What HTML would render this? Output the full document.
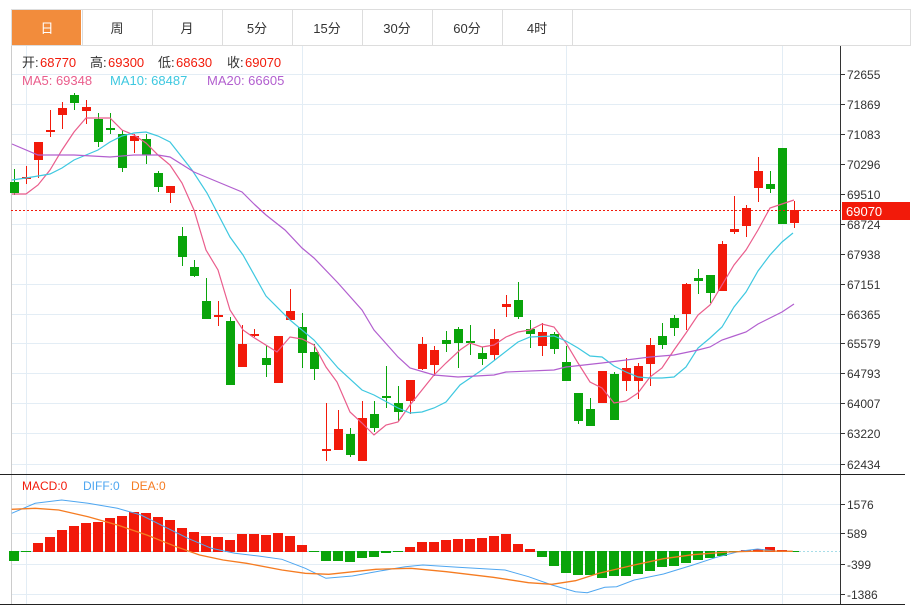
<!DOCTYPE html>
<html><head><meta charset="utf-8"><style>
body{margin:0;background:#fff;width:916px;height:608px;overflow:hidden;font-family:"Liberation Sans","Noto Sans CJK SC",sans-serif}
</style></head><body>
<svg id="s" width="916" height="608" xmlns="http://www.w3.org/2000/svg" style="position:absolute;left:0;top:0;font-family:'Liberation Sans','Noto Sans CJK SC',sans-serif">
</svg>
<script>
var s=document.getElementById('s'),h='';
function L(x1,y1,x2,y2,c,w,d){h+='<line x1="'+x1+'" y1="'+y1+'" x2="'+x2+'" y2="'+y2+'" stroke="'+c+'" stroke-width="'+(w||1)+'"'+(d?' stroke-dasharray="'+d+'"':'')+'/>';}
function R(x,y,w,hh,c){h+='<rect x="'+x+'" y="'+y+'" width="'+w+'" height="'+hh+'" fill="'+c+'"/>';}
function T(x,y,t,c,sz,a){h+='<text x="'+x+'" y="'+y+'" fill="'+c+'" font-size="'+(sz||12)+'"'+(a?' text-anchor="'+a+'"':'')+'>'+t+'</text>';}
function P(pts,c,w){h+='<polyline fill="none" stroke="'+c+'" stroke-width="'+(w||1.2)+'" points="'+pts.map(function(p){return p[0]+','+p[1]}).join(' ')+'"/>';}
// tabs
R(11,9,899,36,'#fff');L(11,9.5,910,9.5,'#ddd');L(11,45.5,910,45.5,'#ddd');L(910.5,9,910.5,46,'#ddd');L(11.5,9,11.5,46,'#ddd');
var tabs=['日','周','月','5分','15分','30分','60分','4时'];
for(var i=0;i<8;i++){var x=12+i*70;if(i==0)R(12,10,69,35,'#f28c3c');else L(x+.5,10,x+.5,45,'#ddd');T(x+35,33,tabs[i],i==0?'#fff':'#333',13,'middle');}
L(x+70.5,10,x+70.5,45,'#ddd');
// grid
var gy=[74,104,134,164,194,224,254,284,314,343,373,403,433,464],gl=['72655','71869','71083','70296','69510','68724','67938','67151','66365','65579','64793','64007','63220','62434'];
gy.forEach(function(y,i){L(11,y+.5,840,y+.5,'#e3edf5');L(840,y+.5,845,y+.5,'#333');T(847,y+5,gl[i],'#333',12);});
[26,302,566,782].forEach(function(x){L(x+.5,46,x+.5,605,'#e3edf5');});
[504,533,564,594].forEach(function(y){L(11,y+.5,840,y+.5,'#e3edf5');});
L(11.5,46,11.5,605,'#ccc');
L(840.5,46,840.5,605,'#333');
L(0,474.5,905,474.5,'#222');L(0,604.5,905,604.5,'#222');
[[504,'1576'],[533,'589'],[564,'-399'],[594,'-1386']].forEach(function(a){L(840,a[0]+.5,845,a[0]+.5,'#333');T(847,a[0]+5,a[1],'#333',12);});
// candles
var C=[[182,193,169,195,0],[177,179,166,184,1],[142,160,142,178,1],[130,132,110,137,1],[108,115,102,129,1],[95,103,93,110,0],[107,111,100,124,1],[119,142,113,147,0],[128,130,113,134,0],[134,168,130,172,0],[136,141,134,153,1],[139,155,134,164,0],[173,187,171,192,0],[186,193,186,203,1],[236,257,227,266,0],[267,276,260,277,0],[301,319,278,319,0],[315,317,301,326,1],[321,385,317,385,0],[344,367,325,367,1],[334,336,329,337,1],[358,365,346,377,0],[336,383,336,383,1],[311,320,289,320,1],[327,353,313,368,0],[352,369,344,380,0],[449,451,403,461,1],[429,450,410,450,1],[434,455,428,457,0],[418,461,401,461,1],[414,428,401,432,0],[396,398,366,408,0],[403,412,386,421,0],[380,401,380,414,1],[344,369,337,370,1],[350,365,346,376,1],[340,344,331,352,0],[329,343,327,368,0],[341,343,325,355,0],[353,359,347,365,0],[339,355,329,360,1],[304,307,295,317,1],[300,317,282,319,0],[329,334,320,348,0],[332,346,323,356,1],[334,349,332,354,0],[362,381,346,381,0],[393,421,393,424,0],[409,426,398,426,0],[371,403,371,403,1],[374,420,372,420,0],[368,381,358,391,1],[366,381,363,399,1],[345,364,338,386,1],[336,345,323,349,0],[318,328,315,336,0],[284,314,283,330,1],[278,281,269,294,0],[275,293,275,303,0],[244,291,241,291,1],[229,232,196,234,1],[208,226,205,237,1],[171,188,157,202,1],[184,189,171,193,0],[148,224,148,224,0],[210,223,201,228,1]];
C.forEach(function(c,i){var x=14+i*12,col=c[4]?'#f21a0a':'#09a40a';L(x+.5,c[2],x+.5,c[3],col);R(x-4,c[0],9,Math.max(2,c[1]-c[0]),col);});
// MAs
P([[12,194],[26,194],[38,185],[50,170],[62,150],[74,132],[86,118],[110,118],[122,130],[134,135],[146,143],[158,155],[170,165],[182,183],[194,210],[206,250],[218,270],[230,310],[243,330],[253,337],[277,352],[290,337],[302,339],[314,345],[326,367],[337,382],[350,412],[362,423],[374,435],[386,425],[398,422],[410,405],[422,390],[434,375],[446,363],[460,350],[470,343],[482,347],[494,345],[506,337],[518,332],[530,330],[542,324],[554,327],[566,343],[578,363],[590,382],[602,388],[614,403],[626,401],[638,393],[650,377],[662,368],[674,350],[686,333],[698,315],[710,305],[722,285],[734,265],[746,250],[758,230],[770,208],[782,204],[794,200]],'#ea5d8c');
P([[12,180],[26,178],[50,174],[62,168],[74,160],[86,155],[98,150],[110,142],[122,136],[134,133],[146,132],[158,136],[170,142],[192,170],[207,193],[230,237],[243,255],[266,296],[290,320],[314,340],[338,368],[362,390],[374,395],[398,408],[410,413],[422,412],[434,408],[446,402],[460,385],[482,370],[518,342],[530,337],[554,336],[566,341],[578,348],[590,356],[602,357],[614,366],[626,372],[638,377],[650,378],[662,378],[674,377],[686,367],[698,348],[710,338],[722,327],[734,307],[746,292],[758,271],[770,255],[782,242],[793,233]],'#3ec8e0');
P([[12,144],[38,155],[74,155],[110,157],[134,155],[158,155],[170,157],[194,172],[218,182],[242,192],[254,204],[266,215],[285,230],[302,248],[314,258],[338,283],[362,310],[374,330],[398,357],[410,368],[434,375],[458,377],[494,375],[506,372],[554,370],[566,367],[602,363],[626,360],[650,357],[674,355],[698,350],[710,347],[722,340],[734,336],[746,332],[758,324],[770,318],[782,312],[794,304]],'#b25fcf');
// price line
L(11,210.5,840,210.5,'#f21a0a',1,'2,2');R(842,202,68,18,'#f21a0a');T(846,216,'69070','#fff',13);
// info
T(22,67,'开:','#333',13);T(40,67,'68770','#f21a0a',13);
T(90,67,'高:','#333',13);T(108,67,'69300','#f21a0a',13);
T(158,67,'低:','#333',13);T(176,67,'68630','#f21a0a',13);
T(227,67,'收:','#333',13);T(245,67,'69070','#f21a0a',13);
T(22,85,'MA5: 69348','#ea5d8c',13);T(110,85,'MA10: 68487','#3ec8e0',13);T(207,85,'MA20: 66605','#b25fcf',13);
T(22,490,'MACD:0','#f21a0a',12);T(83,490,'DIFF:0','#4ea6f0',12);T(131,490,'DEA:0','#f57c22',12);
// macd bars
var Z=551,M={0:561,1:552,25:552,32:552,60:552,61:550,65:552,
2:543,3:537,4:530,5:526,6:523,7:522,8:518,9:516,10:512,11:513,12:517,13:520,14:528,15:532,16:536,17:537,18:540,19:534,20:534,21:535,22:533,23:536,24:545,
26:561,27:561,28:562,29:558,30:557,31:553,
33:547,34:542,35:542,36:540,37:539,38:539,39:538,40:536,41:534,42:544,43:549,
44:557,45:566,46:573,47:575,48:575,49:578,50:576,51:576,52:574,53:571,54:567,55:566,56:563,57:560,58:558,59:556,
62:549,63:547,64:550};
L(11,Z+.5,840,Z+.5,'#a8dde8',1,'2,2');
for(var i=0;i<66;i++){var y=M[i],x=14+i*12;var col=y<Z?'#f21a0a':'#09a40a';if(i==61)col='#f21a0a';
 var t=Math.min(y,Z),b=Math.max(y,Z+1);R(x-5,t,10,Math.max(1,b-t),col);}
function cv(a){return a.map(function(p){return [+(p[0]/1.703).toFixed(1),+(470+p[1]/3).toFixed(1)]});}
P(cv([[20,130],[60,100],[105,90],[150,100],[200,115],[240,135],[280,170],[320,205],[360,235],[400,250],[440,258],[480,268],[520,295],[555,325],[600,318],[640,305],[690,290],[720,285],[780,292],[860,300],[900,320],[940,345],[980,365],[1000,368],[1030,352],[1050,350],[1080,330],[1130,312],[1180,285],[1220,262],[1260,244],[1290,237],[1320,243],[1350,244]]),'#4ea6f0',1);
P(cv([[20,118],[60,115],[100,120],[150,140],[200,165],[250,195],[300,230],[340,255],[380,270],[420,280],[480,300],[520,310],[560,313],[640,298],[700,295],[760,305],[840,322],[900,338],[940,343],[980,332],[1020,310],[1080,285],[1130,266],[1180,254],[1240,246],[1300,243],[1350,244]]),'#f57c22',1.3);
s.innerHTML=h;
</script>
</body></html>
